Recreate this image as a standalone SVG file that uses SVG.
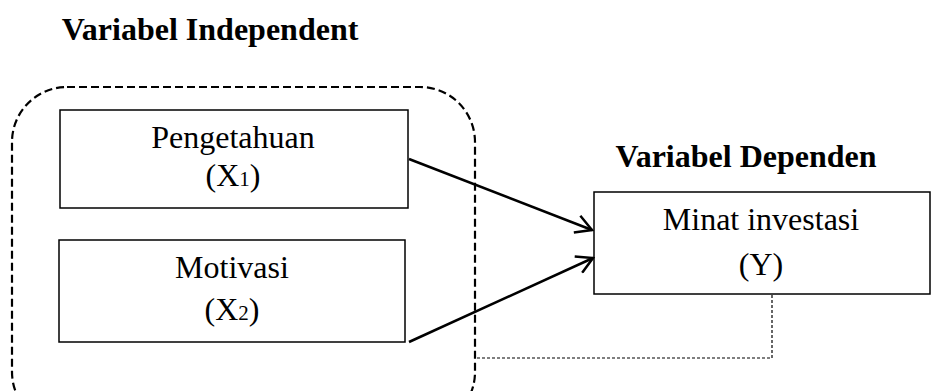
<svg xmlns="http://www.w3.org/2000/svg" width="932" height="391" viewBox="0 0 932 391">
<defs>
<style>
.t{font-family:"Liberation Serif","Times New Roman",serif;font-size:32px;fill:#000;text-anchor:middle}
.b{font-weight:bold}
.box{fill:#fff;stroke:#000;stroke-width:1.5}
.conn{fill:none;stroke:#000;stroke-width:2.5}
.sub{font-size:21px}
</style>
<marker id="arr" viewBox="0 0 20 20" refX="18" refY="10" markerWidth="20" markerHeight="20" markerUnits="userSpaceOnUse" orient="auto">
<path d="M2,1 L18,10 L2,19" fill="none" stroke="#000" stroke-width="2.5"/>
</marker>
</defs>
<rect width="932" height="391" fill="#fff"/>
<g id="group-independent">
<rect x="12" y="87" width="463" height="340" rx="55" ry="55" fill="none" stroke="#000" stroke-width="2.2" stroke-dasharray="8,4"/>
<text class="t b" x="210" y="40">Variabel Independent</text>
</g>
<g id="node-x1">
<rect class="box" x="60" y="110" width="348" height="98"/>
<text class="t" x="233" y="148">Pengetahuan</text>
<text class="t" x="233" y="186">(X<tspan class="sub">1</tspan>)</text>
</g>
<g id="node-x2">
<rect class="box" x="59" y="240" width="346" height="102"/>
<text class="t" x="232" y="278">Motivasi</text>
<text class="t" x="232" y="320">(X<tspan class="sub">2</tspan>)</text>
</g>
<g id="node-y">
<text class="t b" x="746" y="167">Variabel Dependen</text>
<rect class="box" x="594" y="192" width="336" height="102"/>
<text class="t" x="761" y="230">Minat investasi</text>
<text class="t" x="761" y="275">(Y)</text>
</g>
<g id="connectors">
<line class="conn" x1="409" y1="159" x2="592" y2="230" marker-end="url(#arr)"/>
<line class="conn" x1="409" y1="342" x2="593" y2="258" marker-end="url(#arr)"/>
<polyline points="772,295 772,358 475,358" fill="none" stroke="#000" stroke-width="1.2" stroke-dasharray="3,2"/>
</g>
</svg>
